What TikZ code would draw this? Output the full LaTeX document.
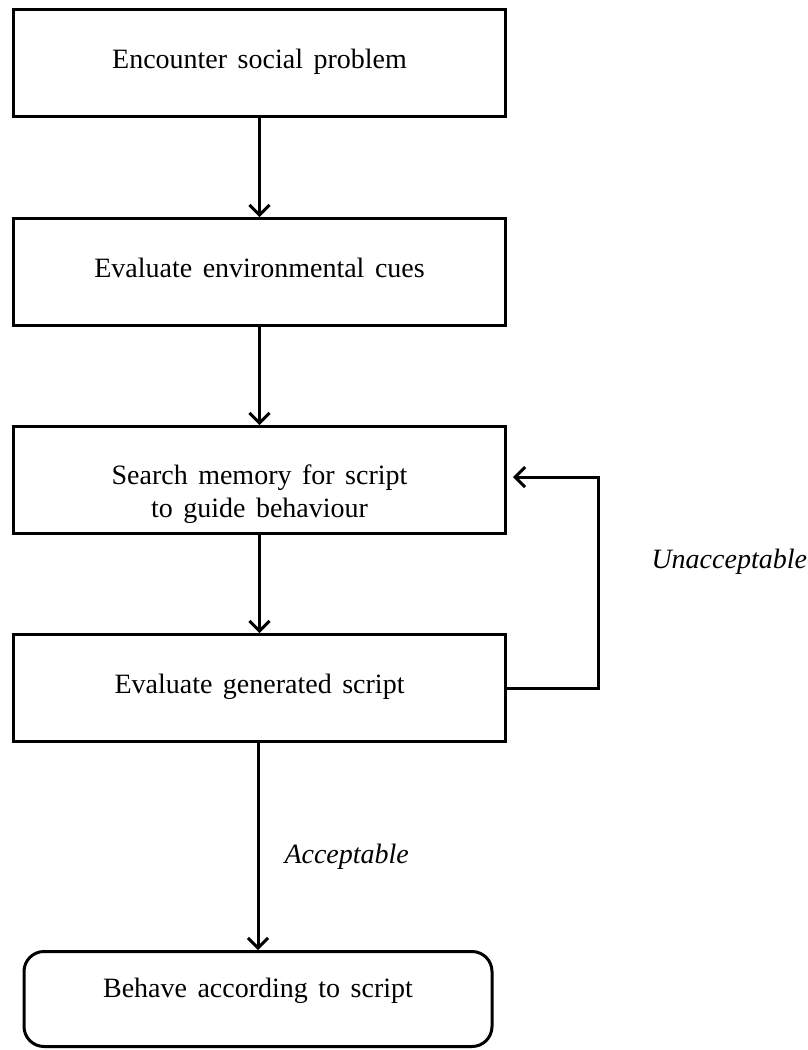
\documentclass[tikz,border=0pt]{standalone}
\usepackage{fontspec}
\setmainfont{Liberation Serif}[WordSpace=1.5]
\usepackage{tikz}
\usetikzlibrary{arrows.meta}
\tikzset{
box/.style={draw=black, line width=3pt, inner sep=0pt, minimum width=492pt, text height=58.5pt, text depth=48.5pt, align=center, font=\fontsize{28}{33}\selectfont},
->-/.style={line width=3pt, -{Straight Barb[length=10pt,width=20pt,line width=3pt]}},
lbl/.style={font=\fontsize{28}{33}\selectfont\itshape, inner sep=0pt}}

\begin{document}
\begin{tikzpicture}[x=1pt, y=-1pt]
            
                \useasboundingbox (0,0) rectangle (808,1050);
            
                \node[box] (A) at (259.5,63) {Encounter social problem};
                \node[box] (B) at (259.5,272) {Evaluate environmental cues};
                \node[box, text height=91pt, text depth=16pt] (C) at (259.5,480) {Search memory for script\\to guide behaviour};
                \node[box] (D) at (259.5,688) {Evaluate generated script};
                \node[box, rounded corners=20pt, minimum width=468pt, text height=45.5pt, text depth=49.5pt] (E) at (258,999) {Behave according to script};
                \coordinate (L) at (598,477);
            
                \draw[->-] (A) -- (B);
                \draw[->-] (B) -- (C);
                \draw[->-] (C) -- (D);
                \draw[->-] (D.south -| E) -- (E) node[lbl, pos=0.55, right=25pt] {Acceptable};
                \draw[->-, shorten >=6pt] (D.east) -| (L) node[lbl, pos=0.8, right=52pt] {Unacceptable} -- (C.east |- L);
        
            \end{tikzpicture}
\end{document}
